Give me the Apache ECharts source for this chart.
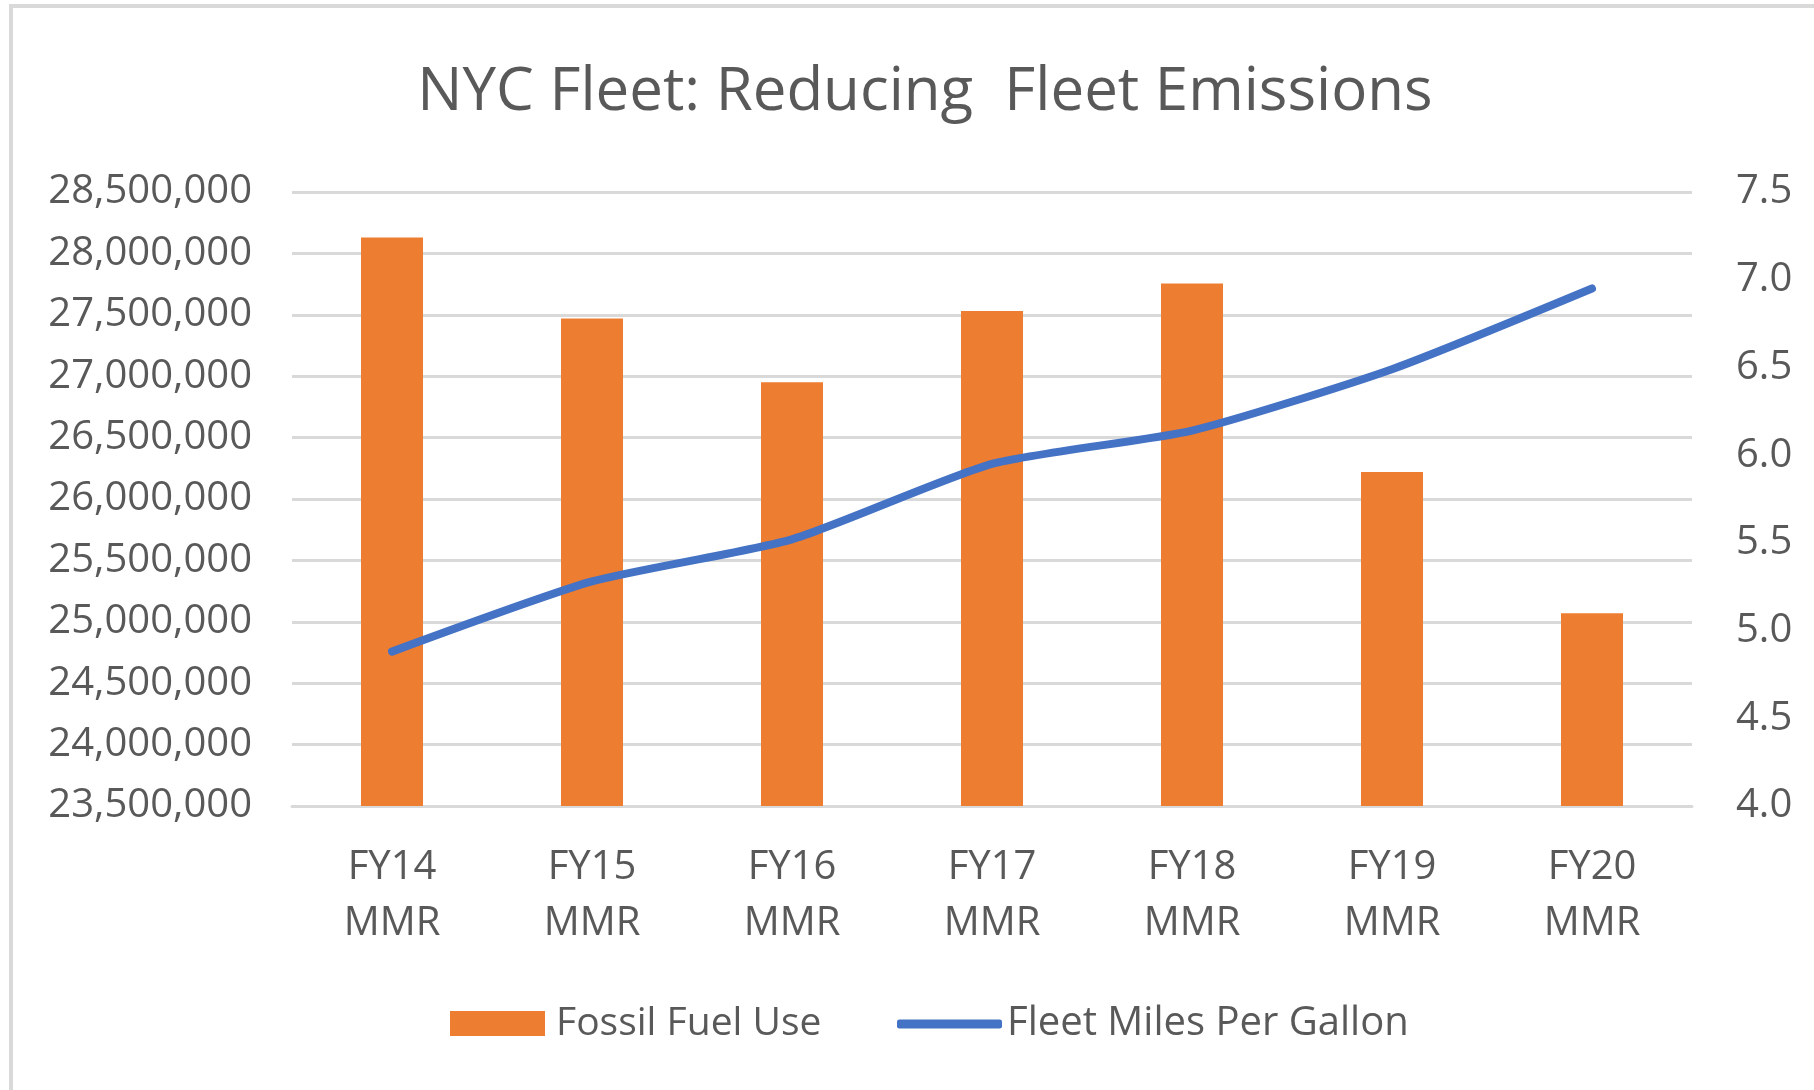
<!DOCTYPE html>
<html>
<head>
<meta charset="utf-8">
<title>NYC Fleet: Reducing Fleet Emissions</title>
<script src="https://cdn.jsdelivr.net/npm/echarts@6/dist/echarts.min.js"></script>
<style>
  html, body { margin: 0; padding: 0; background: #fff; }
  #main { width: 1814px; height: 1090px; }
</style>
</head>
<body>
<div id="main"></div>
<script>
// categories (fiscal years, Mayor's Management Report)
const years = ['FY14\nMMR', 'FY15\nMMR', 'FY16\nMMR', 'FY17\nMMR', 'FY18\nMMR', 'FY19\nMMR', 'FY20\nMMR']
// gallons of fossil fuel used
const fossilFuelUse = [28130000, 27470000, 26950000, 27530000, 27755000, 26220000, 25070000]
// fleet miles per gallon
const fleetMpg = [4.88, 5.28, 5.52, 5.95, 6.14, 6.49, 6.95]

const textColor = '#595959'
const gridColor = '#d9d9d9'
const fontFamily = '"Open Sans", "Noto Sans", sans-serif'

const chart = echarts.init(document.getElementById('main'))

const option = {
  backgroundColor: '#fff',
  animation: false,
  // light frame around the chart area (only top/left visible in the picture)
  graphic: [{
    type: 'rect',
    shape: { x: 11, y: 6, width: 1900, height: 1200 },
    style: { fill: 'none', stroke: gridColor, lineWidth: 4 },
    silent: true
  }],
  title: {
    text: 'NYC Fleet: Reducing  Fleet Emissions',
    left: 920,
    top: 58,
    textAlign: 'center',
    textStyle: { color: textColor, fontSize: 60, fontWeight: 'normal', fontFamily: fontFamily }
  },
  legend: [
    {
      data: [{ name: 'Fossil Fuel Use', icon: 'rect' }],
      left: 445,
      top: 999,
      itemWidth: 95,
      itemHeight: 25,
      textStyle: { color: textColor, fontSize: 39, fontFamily: fontFamily, padding: [0, 0, 0, 6] }
    },
    {
      data: [{ name: 'Fleet Miles Per Gallon', icon: 'roundRect' }],
      left: 892,
      top: 999,
      itemWidth: 105,
      itemHeight: 9,
      textStyle: { color: textColor, fontSize: 40, fontFamily: fontFamily }
    }
  ],
  grid: { left: 292, right: 122, top: 192, bottom: 284 },
  xAxis: {
    type: 'category',
    data: years,
    axisLine: { show: true, lineStyle: { color: gridColor, width: 3 } },
    axisTick: { show: false },
    axisLabel: {
      color: textColor, fontSize: 40, fontFamily: fontFamily,
      lineHeight: 56, margin: 34
    }
  },
  yAxis: [
    {
      type: 'value',
      min: 23500000,
      max: 28500000,
      interval: 500000,
      axisLine: { show: false },
      axisTick: { show: false },
      splitLine: { lineStyle: { color: gridColor, width: 3 } },
      axisLabel: {
        color: textColor, fontSize: 40, fontFamily: fontFamily, margin: 40,
        formatter: v => v.toLocaleString('en-US')
      }
    },
    {
      type: 'value',
      min: 4,
      max: 7.5,
      interval: 0.5,
      axisLine: { show: false },
      axisTick: { show: false },
      splitLine: { show: false },
      axisLabel: {
        color: textColor, fontSize: 40, fontFamily: fontFamily, margin: 44,
        formatter: v => v.toFixed(1)
      }
    }
  ],
  series: [
    {
      name: 'Fossil Fuel Use',
      type: 'bar',
      data: fossilFuelUse,
      yAxisIndex: 0,
      barWidth: '31%',
      itemStyle: { color: '#ED7D31' }
    },
    {
      name: 'Fleet Miles Per Gallon',
      type: 'line',
      data: fleetMpg,
      yAxisIndex: 1,
      smooth: 0.2,
      showSymbol: false,
      symbol: 'none',
      lineStyle: { color: '#4472C4', width: 8, cap: 'round', join: 'round' },
      itemStyle: { color: '#4472C4' }
    }
  ]
}

chart.setOption(option)
</script>
</body>
</html>
